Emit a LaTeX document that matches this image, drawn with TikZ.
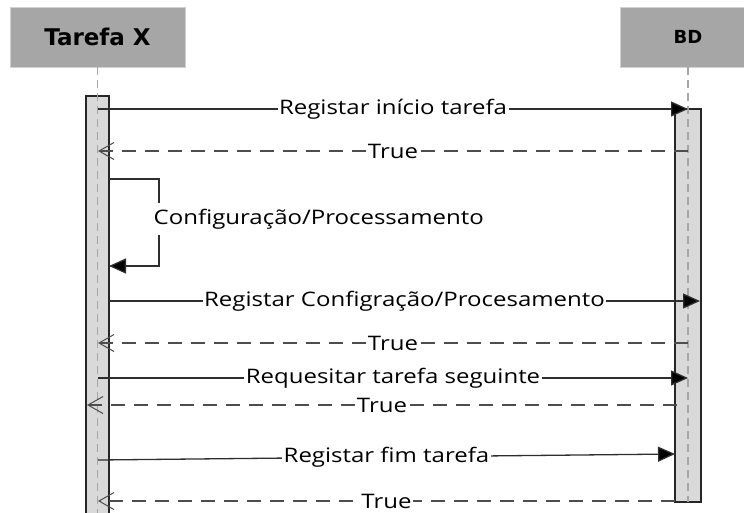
\documentclass[tikz,border=0pt]{standalone}
\usepackage{fontspec}
\setmainfont{Open Sans}[FakeStretch=1.2]
\newfontfamily\headfont{DejaVu Sans}
\usetikzlibrary{arrows.meta}
\definecolor{headgray}{HTML}{A6A6A6}
\definecolor{bargray}{HTML}{D9D9D9}
\definecolor{msggray}{HTML}{2E2E2E}
\begin{document}
\begin{tikzpicture}[x=1pt,y=-1pt,
    head/.style={draw=black!18, fill=headgray, minimum height=60pt, inner sep=0pt, font=\headfont\bfseries},
    life/.style={draw=black!35, line width=1.5pt, dash pattern=on 8pt off 5pt},
    bar/.style={draw=black!85, fill=bargray, line width=1.3pt},
    call/.style={draw=msggray, line width=1.3pt, -{Triangle[length=17pt,width=15pt,fill=black]}},
    reply/.style={draw=msggray!85, line width=1.3pt, dash pattern=on 14pt off 9pt, -{Straight Barb[length=15pt,width=17pt,line width=1pt]}},
    lbl/.style={fill=white, inner sep=1.5pt, font=\fontsize{20}{20}\selectfont}]
    \useasboundingbox (0,0) rectangle (744,512);
    % cabecalhos
    \node[head, minimum width=175pt] (tarefa) at (97.5,37) {\fontsize{23}{23}\selectfont Tarefa X};
    \node[head, minimum width=136pt] (bd) at (688,37) {\fontsize{18}{18}\selectfont BD};
    % barras de activacao
    \draw[bar] (86,96) rectangle (109,520);
    \draw[bar] (675,109) rectangle (701,502);
    \coordinate (fimT) at (97.5,520);
    \coordinate (fimB) at (688,502);
    \draw[life] (tarefa.south)--(fimT);
    \draw[life] (bd.south)--(fimB);
    % mensagens
    \coordinate (t1) at (98,109);  \coordinate (b1) at (688,109);
    \coordinate (t2) at (98,151);  \coordinate (b2) at (688,151);
    \coordinate (t4) at (109,301); \coordinate (b4) at (700,301);
    \coordinate (t5) at (98,343);  \coordinate (b5) at (688,343);
    \coordinate (t6) at (98,378);  \coordinate (b6) at (688,378);
    \coordinate (t7) at (87,405);  \coordinate (b7) at (677,405);
    \coordinate (t8) at (98,460);  \coordinate (b8) at (675,454);
    \coordinate (t9) at (98,501);  \coordinate (b9) at (675,501);
    \draw[call] (t1)--node[lbl] (m1) {Registar início tarefa} (b1);
    \draw[reply] (b2)--node[lbl] (m2) {True} (t2);
    % auto-mensagem
    \coordinate (s1) at (109,179); \coordinate (s2) at (159,179);
    \coordinate (s3) at (159,266); \coordinate (s4) at (109,266);
    \draw[call] (s1)--(s2)--(s3)--(s4);
    \node[lbl, anchor=west, inner ysep=6pt] (m3) at (152,219) {Configuração/Processamento};
    \draw[call] (t4)--node[lbl] (m4) {Registar Configração/Procesamento} (b4);
    \draw[reply] (b5)--node[lbl] (m5) {True} (t5);
    \draw[call] (t6)--node[lbl] (m6) {Requesitar tarefa seguinte} (b6);
    \draw[reply] (b7)--node[lbl] (m7) {True} (t7);
    \draw[call] (t8)--node[lbl] (m8) {Registar fim tarefa} (b8);
    \draw[reply] (b9)--node[lbl] (m9) {True} (t9);
\end{tikzpicture}
\end{document}
